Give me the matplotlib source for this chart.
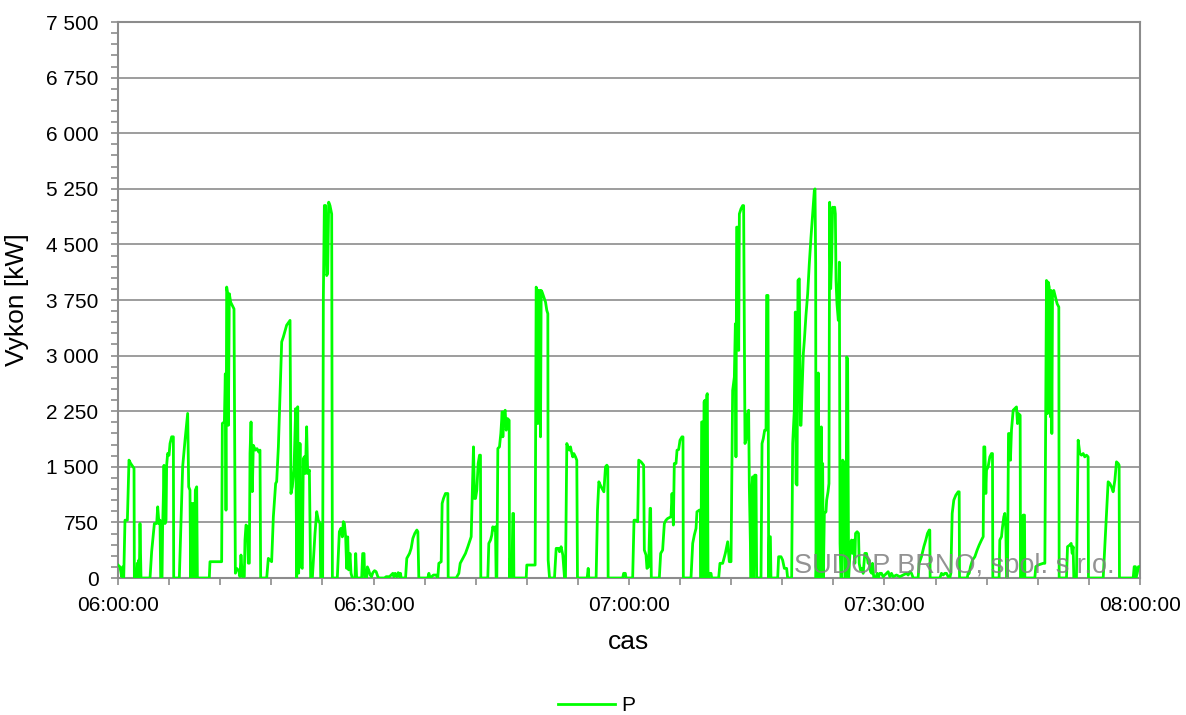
#!/usr/bin/env python

import datetime

import matplotlib
matplotlib.use('Agg')
import matplotlib.dates as mdates
import matplotlib.pyplot as plt
from matplotlib.ticker import FuncFormatter, MultipleLocator

# power samples (minutes after 06:00, kW), split per half hour
p_0600 = [
    (0.00, 175), (0.23, 150), (0.43, 20), (0.55, 150), (0.67, 0), (0.82, 780), (1.10, 780), (1.29, 1590),
    (1.49, 1545), (1.88, 1480), (1.92, 0), (2.19, 0), (2.27, 200), (2.35, 0), (2.43, 240), (2.50, 0),
    (2.58, 735), (2.70, 0), (3.76, 0), (3.95, 355), (4.27, 735), (4.54, 735), (4.66, 960), (4.81, 735),
    (4.93, 780), (5.01, 0), (5.17, 0), (5.24, 690), (5.32, 1070), (5.40, 1520), (5.52, 735), (5.64, 780),
    (5.71, 1520), (5.83, 1680), (5.99, 1655), (6.11, 1815), (6.30, 1905), (6.50, 1905), (6.54, 0), (7.20, 0),
    (7.59, 1500), (7.87, 1860), (8.18, 2220), (8.30, 1230), (8.45, 1185), (8.53, 0), (8.65, 1005), (8.77, 0),
    (8.85, 1005), (8.96, 0), (9.08, 1185), (9.24, 1230), (9.32, 0), (10.72, 0), (10.80, 220), (12.17, 220),
    (12.25, 2085), (12.49, 2105), (12.60, 2755), (12.68, 915), (12.76, 3925), (12.88, 3835), (12.96, 2060),
    (13.07, 3835), (13.23, 3720), (13.42, 3675), (13.62, 3630), (13.70, 1905), (13.78, 65), (13.93, 130),
    (14.17, 100), (14.32, 20), (14.44, 310), (14.60, 20), (14.83, 20), (14.91, 510), (15.03, 715), (15.19, 690),
    (15.30, 200), (15.42, 200), (15.50, 1680), (15.62, 2105), (15.77, 1165), (15.89, 1790), (16.13, 1725),
    (16.32, 1745), (16.52, 1700), (16.67, 1725), (16.75, 0), (17.46, 0), (17.65, 265), (18.04, 220),
    (18.24, 825), (18.51, 1275), (18.63, 1300), (18.83, 1770), (19.22, 3185), (19.41, 3250), (19.80, 3410),
    (20.20, 3475), (20.31, 1140), (20.47, 1230), (20.67, 1475), (20.86, 2285), (20.98, 0), (21.10, 2310),
    (21.21, 65), (21.37, 1815), (21.49, 150), (21.64, 130), (21.76, 1610), (21.88, 1635), (22.00, 1410),
    (22.15, 2040), (22.27, 1410), (22.47, 1455), (22.62, 0), (22.82, 0), (23.13, 600), (23.33, 895),
    (23.52, 780), (23.72, 735), (23.80, 0), (24.03, 0), (24.11, 3765), (24.23, 5025), (24.38, 5025),
    (24.50, 4080), (24.62, 4105), (24.74, 5070), (24.89, 5025), (25.09, 4910), (25.17, 0), (25.75, 0),
    (25.87, 310), (25.99, 625), (26.18, 670), (26.34, 555), (26.46, 760), (26.58, 735), (26.73, 555),
    (26.85, 130), (26.97, 555), (27.08, 110), (27.24, 330), (27.36, 65), (27.51, 0), (27.83, 0), (27.91, 330),
    (28.02, 0), (28.61, 0), (28.73, 330), (28.89, 330), (28.96, 0), (29.20, 0), (29.28, 150), (29.43, 110),
]

p_0630 = [
    (29.61, 40), (29.77, 18), (29.92, 72), (30.12, 99), (30.31, 85), (30.51, 18), (30.63, 0), (31.29, 0),
    (31.49, 18), (31.88, 18), (32.07, 40), (32.27, 63), (32.39, 18), (32.54, 63), (32.74, 18), (32.90, 72),
    (33.05, 18), (33.17, 63), (33.25, 0), (33.76, 0), (33.91, 265), (34.23, 332), (34.42, 400), (34.62, 534),
    (34.85, 602), (35.09, 647), (35.21, 624), (35.32, 0), (36.38, 0), (36.50, 63), (36.65, 0), (37.04, 40),
    (37.36, 40), (37.55, 0), (37.67, 198), (37.95, 220), (38.06, 1006), (38.22, 1073), (38.45, 1140),
    (38.73, 1140), (38.77, 0), (39.71, 0), (40.02, 63), (40.18, 198), (40.49, 265), (40.80, 332), (41.08, 422),
    (41.27, 489), (41.47, 557), (41.59, 1096), (41.74, 1769), (41.86, 1073), (41.98, 1073), (42.13, 1185),
    (42.29, 1545), (42.45, 1657), (42.56, 1657), (42.60, 0), (43.42, 0), (43.54, 467), (43.74, 512),
    (43.89, 579), (44.01, 691), (44.17, 647), (44.32, 691), (44.40, 0), (44.48, 0), (44.60, 1747),
    (44.79, 1769), (44.95, 1949), (45.11, 2241), (45.19, 1904), (45.30, 2218), (45.46, 2263), (45.58, 1994),
    (45.73, 2151), (45.93, 2128), (45.97, 0), (46.05, 265), (46.16, 0), (46.28, 242), (46.36, 871),
    (46.44, 871), (46.48, 0), (47.93, 0), (48.00, 175), (48.98, 175), (49.10, 3924), (49.22, 3879),
    (49.30, 2083), (49.37, 3879), (49.49, 3879), (49.61, 1904), (49.69, 3879), (49.80, 3857), (50.00, 3790),
    (50.20, 3722), (50.35, 3610), (50.47, 3565), (50.51, 242), (50.67, 0), (51.25, 0), (51.45, 400),
    (51.72, 400), (51.84, 355), (52.03, 422), (52.23, 310), (52.43, 0), (52.54, 0), (52.70, 1814),
    (52.82, 1769), (53.01, 1724), (53.13, 1769), (53.29, 1679), (53.40, 1634), (53.52, 1679), (53.72, 1634),
    (53.87, 1589), (53.95, 0), (55.09, 0), (55.21, 130), (55.28, 0), (56.14, 0), (56.30, 916), (56.46, 1298),
    (56.73, 1230), (57.05, 1163), (57.24, 1500), (57.40, 1522), (57.51, 1500), (57.55, 0),
]

p_0700 = [
    (59.26, 0), (59.37, 63), (59.57, 63), (59.65, 0), (60.43, 0), (60.59, 780), (60.82, 780), (61.02, 758),
    (61.14, 1590), (61.41, 1567), (61.72, 1522), (61.80, 377), (62.00, 310), (62.11, 130), (62.31, 153),
    (62.47, 940), (62.54, 940), (62.62, 0), (63.56, 0), (63.72, 332), (63.95, 377), (64.15, 735),
    (64.34, 780), (64.54, 803), (64.93, 826), (65.05, 1140), (65.21, 714), (65.32, 1545), (65.52, 1545),
    (65.64, 1724), (65.83, 1733), (65.99, 1859), (66.22, 1904), (66.34, 1904), (66.38, 0), (67.28, 0),
    (67.48, 467), (67.67, 579), (67.87, 669), (67.98, 893), (68.26, 916), (68.38, 916), (68.45, 0),
    (68.53, 2105), (68.65, 2105), (68.73, 0), (68.81, 2375), (68.92, 2398), (69.04, 0), (69.12, 2465),
    (69.20, 2487), (69.28, 0), (69.43, 63), (69.63, 63), (69.71, 0), (70.53, 0), (70.68, 198), (71.00, 198),
    (71.31, 332), (71.59, 489), (71.78, 220), (71.98, 220), (72.17, 2530), (72.37, 2710), (72.49, 3430),
    (72.56, 1634), (72.64, 4733), (72.76, 4733), (72.88, 3070), (72.96, 4912), (73.15, 4980), (73.35, 5024),
    (73.46, 5024), (73.54, 3295), (73.62, 1814), (73.74, 1859), (73.93, 2218), (74.05, 2263), (74.13, 1230),
    (74.33, 0), (74.44, 1230), (74.52, 1365), (74.64, 0), (74.76, 1387), (74.91, 1387), (74.99, 0),
    (75.50, 0), (75.62, 1814), (75.77, 1881), (75.93, 1994), (76.09, 1994), (76.16, 3812), (76.32, 3812),
    (76.40, 0), (76.48, 557), (76.60, 557), (76.67, 0), (77.46, 0), (77.57, 287), (77.85, 287), (78.04, 242),
    (78.24, 130), (78.51, 130), (78.63, 0), (79.10, 0), (79.22, 1814), (79.41, 2263), (79.53, 3588),
    (79.61, 1275), (79.73, 1253), (79.84, 4014), (80.00, 4036), (80.12, 2060), (80.20, 2060), (80.31, 2487),
    (80.47, 3026), (80.59, 3206), (80.78, 3543), (80.98, 3834), (81.17, 4238), (81.37, 4597), (81.57, 4912),
    (81.76, 5226), (81.84, 5249), (81.92, 4238), (81.96, 0), (82.04, 422), (82.15, 0), (82.23, 2766),
    (82.35, 0), (82.43, 1949), (82.51, 0), (82.58, 2039), (82.66, 63), (82.74, 1545), (82.82, 0), (82.94, 871),
    (83.13, 893), (83.21, 1051), (83.37, 1163), (83.48, 1275), (83.56, 5069), (83.68, 3902), (83.80, 4283),
    (83.91, 5002), (84.03, 4980), (84.15, 5002), (84.23, 4912), (84.31, 4014), (84.42, 3700), (84.58, 3475),
    (84.70, 4261), (84.78, 467), (84.89, 0), (85.01, 0), (85.09, 1590), (85.21, 1567), (85.32, 691),
    (85.40, 0), (85.48, 0), (85.56, 2981), (85.67, 2959), (85.79, 0),
]

p_0730 = [
    (86.01, 467), (86.13, 512), (86.24, 332), (86.40, 512), (86.52, 198), (86.60, 602), (86.79, 624),
    (86.95, 602), (87.03, 198), (87.18, 108), (87.34, 130), (87.50, 63), (87.69, 332), (87.89, 332),
    (88.08, 198), (88.20, 242), (88.36, 85), (88.51, 63), (88.59, 198), (88.75, 0), (88.98, 0), (89.14, 63),
    (89.26, 0), (89.45, 63), (89.65, 63), (89.84, 18), (90.24, 63), (90.43, 85), (90.63, 18), (90.82, 63),
    (91.02, 18), (91.41, 40), (91.80, 18), (92.19, 40), (92.58, 63), (92.78, 40), (92.98, 85), (93.17, 63),
    (93.37, 0), (93.95, 0), (94.07, 198), (94.34, 287), (94.62, 422), (94.85, 512), (95.05, 602),
    (95.25, 647), (95.32, 647), (95.36, 0), (96.50, 0), (96.69, 63), (96.89, 40), (97.08, 63), (97.28, 63),
    (97.48, 18), (97.67, 0), (97.79, 63), (97.95, 871), (98.14, 1051), (98.38, 1118), (98.65, 1163),
    (98.77, 1163), (98.81, 0), (99.71, 0), (99.82, 63), (99.94, 63), (100.10, 153), (100.33, 242),
    (100.61, 287), (100.88, 377), (101.12, 445), (101.39, 512), (101.59, 557), (101.66, 1769), (101.78, 1769),
    (101.90, 1140), (101.98, 1455), (102.17, 1500), (102.37, 1634), (102.56, 1679), (102.68, 1679),
    (102.72, 0), (103.46, 0), (103.54, 512), (103.74, 557), (103.86, 691), (104.01, 826), (104.13, 871),
    (104.25, 647), (104.33, 0), (104.44, 0), (104.56, 1949), (104.72, 1949), (104.79, 1589), (104.91, 1994),
    (105.11, 2263), (105.30, 2285), (105.50, 2308), (105.62, 2083), (105.73, 2218), (105.93, 2196),
    (105.97, 0), (106.20, 0), (106.28, 849), (106.44, 849), (106.48, 0), (107.65, 0), (107.77, 153),
    (108.04, 175), (108.63, 198), (108.83, 198), (109.02, 4014), (109.14, 2218), (109.22, 3992),
    (109.34, 3924), (109.49, 2173), (109.57, 3879), (109.65, 1949), (109.73, 3835), (109.88, 3879),
    (110.08, 3790), (110.27, 3700), (110.47, 3655), (110.51, 0), (111.37, 0), (111.49, 422), (111.76, 445),
    (111.92, 467), (112.04, 332), (112.15, 422), (112.23, 0), (112.54, 0), (112.74, 1859), (112.94, 1679),
    (113.13, 1657), (113.33, 1679), (113.52, 1634), (113.72, 1657), (113.91, 1634), (113.95, 0), (115.68, 0),
    (116.26, 1298), (116.46, 1275), (116.65, 1230), (116.85, 1163), (117.05, 1320), (117.24, 1567),
    (117.44, 1545), (117.55, 1522), (117.59, 0), (119.20, 0), (119.32, 153), (119.47, 153), (119.51, 0),
    (119.67, 63), (119.82, 153), (119.98, 153),
]

y_ticks = [0, 750, 1500, 2250, 3000, 3750, 4500, 5250, 6000, 6750, 7500]
series_name = 'P'
watermark = 'SUDOP BRNO, spol. s r.o.'


def main():
    matplotlib.rc('font', **{'family': 'sans-serif', 'sans-serif': ['Liberation Sans', 'DejaVu Sans']})

    samples = p_0600 + p_0630 + p_0700 + p_0730
    start = datetime.datetime(2000, 1, 1, 6, 0, 0)
    times = [start + datetime.timedelta(minutes=m) for m, _ in samples]
    power = [v for _, v in samples]

    fig = plt.figure(figsize=(11.86, 7.15), dpi=100)
    ax = fig.add_axes([0.0995, 0.1916, 0.8617, 0.7776])

    grid_color = '#8c8c8c'
    ax.set_axisbelow(True)
    ax.grid(axis='y', color=grid_color, lw=1.2)

    ax.plot(times, power, color='#00ff00', lw=2.0, label=series_name, zorder=3)

    ax.set_xlim(start, start + datetime.timedelta(hours=2))
    ax.set_ylim(y_ticks[0], y_ticks[-1])
    ax.set_yticks(y_ticks)
    ax.yaxis.set_minor_locator(MultipleLocator(150))
    ax.yaxis.set_major_formatter(FuncFormatter(lambda v, _: '{:,}'.format(int(v)).replace(',', ' ')))

    ax.xaxis.set_major_locator(mdates.MinuteLocator(byminute=[0, 30]))
    ax.xaxis.set_minor_locator(mdates.MinuteLocator(byminute=range(0, 60, 6)))
    ax.xaxis.set_major_formatter(mdates.DateFormatter('%H:%M:%S'))

    for spine in ax.spines.values():
        spine.set_color(grid_color)
        spine.set_linewidth(1.5)

    ax.tick_params(which='both', color=grid_color, width=1.2, length=5, labelsize=15)
    ax.tick_params(axis='y', which='major', pad=9)
    ax.tick_params(axis='x', which='major', pad=8)

    ax.set_xlabel('cas', fontsize=19, labelpad=11)
    ax.set_ylabel('Vykon [kW]', fontsize=19, labelpad=12)

    # company watermark sits over the line in the lower right corner
    ax.text(0.9755, 0.009, watermark, transform=ax.transAxes, ha='right', va='baseline',
            fontsize=19.5, color='#808080', alpha=0.85, zorder=4)

    fig.legend(loc='center', bbox_to_anchor=(0.503, 0.013), frameon=False, fontsize=15,
               handlelength=2.7, handletextpad=0.3)

    plt.savefig('out.png', dpi=100)
    plt.close()


if __name__ == '__main__':
    main()
